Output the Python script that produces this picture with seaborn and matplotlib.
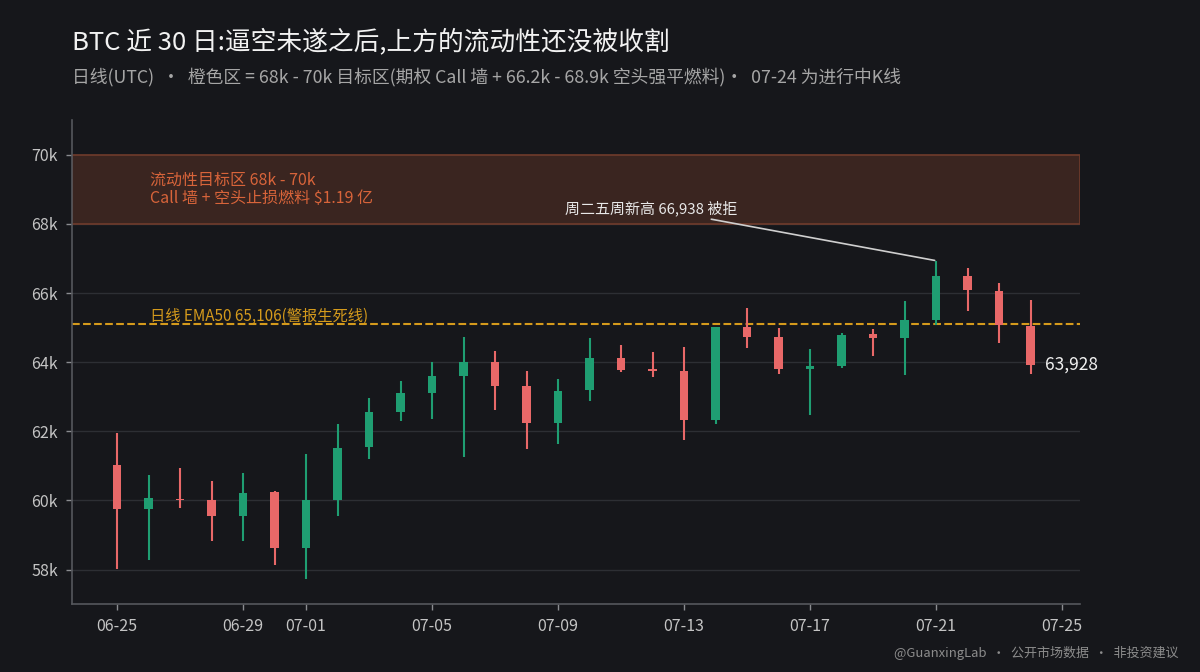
import datetime as dt
import matplotlib
matplotlib.use("Agg")
import matplotlib.pyplot as plt
import matplotlib.dates as mdates
from matplotlib.ticker import FuncFormatter
import seaborn as sns

# daily OHLC (07-24 still in progress)
dates = [dt.datetime(2024, 6, 25) + dt.timedelta(days=i) for i in range(30)]
opens = [61040, 59760, 60050, 60000, 59550, 60230, 58620, 60020, 61540, 62560,
         63110, 63600, 64010, 63310, 62250, 63190, 64130, 63790, 63740, 62320,
         65010, 64720, 63800, 63880, 64810, 64700, 65220, 66490, 66070, 65050]
highs = [61950, 60750, 60950, 60550, 60790, 60260, 61350, 62200, 62950, 63460,
         64000, 64720, 64320, 63760, 63500, 64700, 64510, 64300, 64430, 65020,
         65570, 64980, 64370, 64850, 64960, 65780, 66938, 66720, 66300, 65800]
lows = [58020, 58280, 59790, 58830, 58830, 58140, 57730, 59540, 61190, 62290,
        62360, 61260, 62610, 61480, 61640, 62870, 63730, 63560, 61740, 62220,
        64410, 63670, 62480, 63840, 64180, 63640, 65070, 65480, 64560, 63670]
closes = [59760, 60080, 60000, 59550, 60220, 58620, 60000, 61530, 62550, 63100,
          63590, 64010, 63320, 62250, 63180, 64130, 63770, 63740, 62320, 65010,
          64730, 63790, 63890, 64800, 64700, 65220, 66490, 66090, 65090, 63928]

zone_low, zone_high = 68000, 70000
ema50 = 65106
rejected_high = 66938
last_close = closes[-1]

BG = "#16171b"
UP = "#1f9e72"
DOWN = "#e86868"
GOLD = "#d49a1c"
ZONE_TXT = "#d8643a"

sns.set_theme(style="dark", rc={
    "figure.facecolor": BG,
    "axes.facecolor": BG,
    "axes.edgecolor": "#55575c",
    "axes.grid": True,
    "grid.color": "#2d2f34",
    "grid.linewidth": 1.0,
    "xtick.color": "#8a8c90",
    "ytick.color": "#8a8c90",
    "xtick.labelcolor": "#c4c4c4",
    "ytick.labelcolor": "#c4c4c4",
    "xtick.bottom": True,
    "ytick.left": True,
})
plt.rcParams["font.family"] = ["Noto Sans CJK SC", "DejaVu Sans"]

fig = plt.figure(figsize=(12, 6.72), dpi=100)
ax = fig.add_axes([0.06, 0.101, 0.84, 0.72])

colors = [UP if c >= o else DOWN for o, c in zip(opens, closes)]
x = mdates.date2num(dates)

# wicks then bodies
ax.vlines(x, lows, highs, colors=colors, linewidth=1.5, zorder=3)
bodies = [max(abs(c - o), 40) for o, c in zip(opens, closes)]
bottoms = [min(o, c) for o, c in zip(opens, closes)]
ax.bar(x, bodies, bottom=bottoms, width=0.28, color=colors, linewidth=0, zorder=4)

# target zone
ax.axhspan(zone_low, zone_high, facecolor="#3a2520", edgecolor="#6f3b2b",
           linewidth=1.2, zorder=1)
ax.text(0.077, 69000, "流动性目标区 68k - 70k\nCall 墙 + 空头止损燃料 $1.19 亿",
        transform=ax.get_yaxis_transform(), color=ZONE_TXT, fontsize=11.5,
        va="center", ha="left", linespacing=1.1, zorder=5)

# EMA50
ax.axhline(ema50, color=GOLD, linestyle="--", linewidth=1.5, zorder=2)
ax.text(0.077, ema50 + 230, f"日线 EMA50 {ema50:,}(警报生死线)",
        transform=ax.get_yaxis_transform(), color=GOLD, fontsize=11,
        va="center", ha="left", zorder=5)

# rejected high annotation
ax.annotate(f"周二五周新高 {rejected_high:,} 被拒",
            xy=(x[26], rejected_high),
            xytext=(x[0] + 16.95, 68460),
            color="#e8e8e8", fontsize=10.8, ha="center", va="center",
            arrowprops=dict(arrowstyle="-", color="#cfcfcf", linewidth=1.2,
                            shrinkA=0, shrinkB=1),
            zorder=6)

ax.text(x[-1] + 0.46, last_close, f"{last_close:,}", color="#f0f0f0",
        fontsize=12.5, va="center", ha="left", zorder=6)

ax.set_xlim(x[0] - 1.43, x[-1] + 1.57)
ax.set_ylim(57000, 71000)
ax.set_yticks(range(58000, 70001, 2000))
ax.yaxis.set_major_formatter(FuncFormatter(lambda v, _: f"{int(v / 1000)}k"))
ax.xaxis.set_major_locator(mdates.DayLocator(bymonthday=range(1, 32, 4)))
ax.xaxis.set_major_formatter(mdates.DateFormatter("%m-%d"))
ax.grid(axis="x", visible=False)
ax.grid(axis="y", visible=True)
ax.tick_params(axis="both", length=4, width=1, labelsize=11.5, pad=6)
for side in ["top", "right"]:
    ax.spines[side].set_visible(False)
for side in ["left", "bottom"]:
    ax.spines[side].set_linewidth(1.2)

fig.text(0.06, 0.9375, "BTC 近 30 日:逼空未遂之后,上方的流动性还没被收割",
         color="#f2f2f2", fontsize=18.5, va="center", ha="left")
fig.text(0.06, 0.885,
         "日线(UTC)  ·  橙色区 = 68k - 70k 目标区(期权 Call 墙 + 66.2k - 68.9k 空头强平燃料)·  07-24 为进行中K线",
         color="#a6a6a6", fontsize=12.8, va="center", ha="left")
fig.text(0.982, 0.028, "@GuanxingLab  ·  公开市场数据  ·  非投资建议",
         color="#8c8c8c", fontsize=9.4, va="center", ha="right")

fig.savefig("out.png", dpi=100, facecolor=BG)
